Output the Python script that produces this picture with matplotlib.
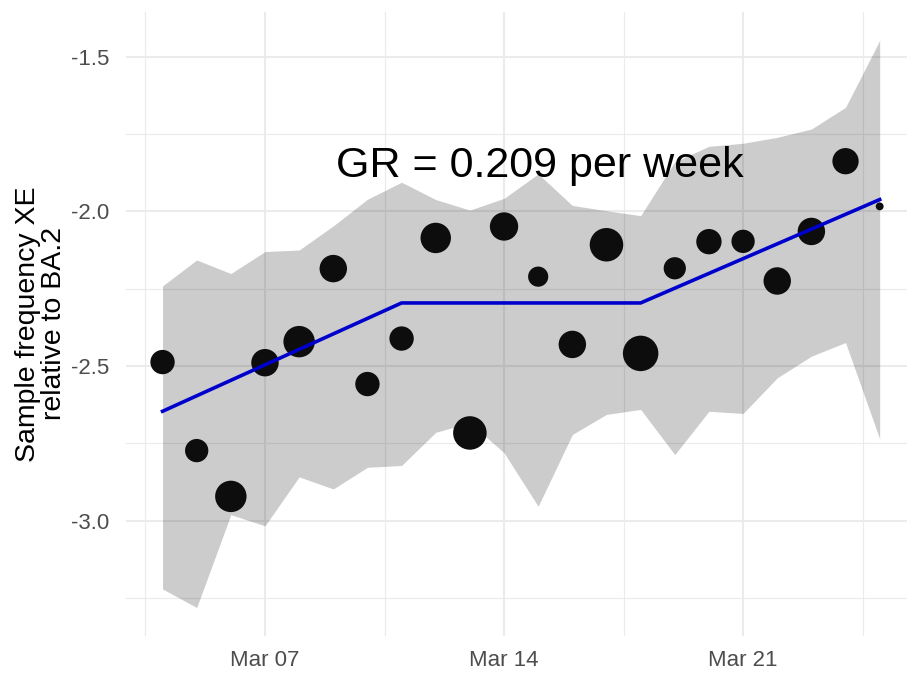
import matplotlib
matplotlib.use("Agg")
import matplotlib.pyplot as plt
import matplotlib.dates as mdates
import numpy as np

plt.rcParams['font.family'] = ['Liberation Sans', 'DejaVu Sans']

# daily dates, Mar 4 .. Mar 25
dates = np.arange(np.datetime64('2022-03-04'), np.datetime64('2022-03-26'))

# observed log ratio XE / BA.2
obs = [-2.487, -2.773, -2.921, -2.489, -2.421, -2.185, -2.558, -2.411,
       -2.086, -2.716, -2.049, -2.211, -2.430, -2.108, -2.459, -2.184,
       -2.098, -2.097, -2.225, -2.065, -1.838, -1.984]
# sample counts (drive the point size)
counts = [48, 44, 80, 61, 80, 61, 48, 48, 75, 91, 65, 33, 61, 91, 102, 40,
          52, 44, 61, 61, 56, 5]

# confidence band
upper = [-2.241, -2.157, -2.201, -2.130, -2.125, -2.047, -1.961, -1.906,
         -1.962, -1.996, -1.958, -1.879, -1.981, -1.998, -2.014, -1.840,
         -1.790, -1.780, -1.761, -1.734, -1.664, -1.448]
lower = [-3.220, -3.280, -2.980, -3.016, -2.858, -2.897, -2.827, -2.821,
         -2.714, -2.683, -2.780, -2.953, -2.721, -2.656, -2.640, -2.786,
         -2.646, -2.653, -2.538, -2.468, -2.424, -2.735]

# piecewise linear fit (knots)
fit_dates = np.array(['2022-03-04', '2022-03-11', '2022-03-18', '2022-03-25'],
                     dtype='datetime64[D]')
fit_vals = [-2.646, -2.296, -2.296, -1.962]

gr_label = "GR = 0.209 per week"

fig = plt.figure(figsize=(9.07, 6.73), dpi=100)
ax = fig.add_axes([126 / 907, 37 / 673, 781 / 907, 624 / 673])

ax.fill_between(dates, lower, upper, color='black', alpha=0.2, lw=0, zorder=2)
ax.scatter(dates, obs, s=np.array(counts) * 6.4, color='#0d0d0d', lw=0, zorder=3)
ax.plot(fit_dates, fit_vals, color='#0000cc', lw=2.6, zorder=4)

x0 = mdates.date2num(np.datetime64('2022-03-04'))
ax.set_xlim(x0 - 1.07, x0 + 21.8)
ax.set_ylim(-3.372, -1.356)

ax.text(x0 + 11.05, -1.889, gr_label, ha='center', va='baseline',
        fontsize=31, color='black', zorder=5)

# ggplot-like minimal theme
ax.xaxis.set_major_locator(mdates.DayLocator(bymonthday=[7, 14, 21]))
ax.xaxis.set_major_formatter(mdates.DateFormatter('%b %d'))
ax.set_xticks([x0 - 0.5, x0 + 6.5, x0 + 13.5, x0 + 20.5], minor=True)
ax.set_yticks([-3.0, -2.5, -2.0, -1.5])
ax.set_yticklabels(['-3.0', '-2.5', '-2.0', '-1.5'])
ax.set_yticks([-3.25, -2.75, -2.25, -1.75], minor=True)
ax.grid(which='major', color='#ebebeb', lw=1.5, zorder=0)
ax.grid(which='minor', color='#ebebeb', lw=0.8, zorder=0)
ax.set_axisbelow(True)
for sp in ax.spines.values():
    sp.set_visible(False)
ax.tick_params(which='both', length=0)
ax.tick_params(axis='both', labelsize=16, labelcolor='#4d4d4d')
ax.tick_params(axis='y', pad=12)
ax.tick_params(axis='x', pad=10)

ax.set_ylabel("Sample frequency XE\nrelative to BA.2", fontsize=20.5,
              color='black', linespacing=1.0, labelpad=3)

plt.savefig("out.png", dpi=100)
